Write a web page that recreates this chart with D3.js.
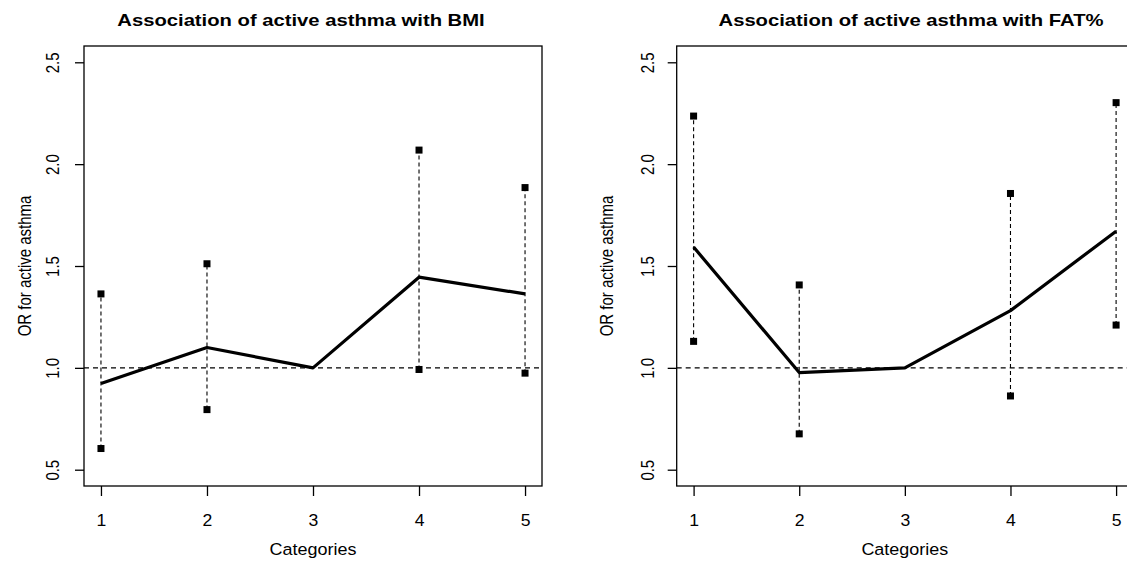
<!DOCTYPE html>
<html>
<head>
<meta charset="utf-8">
<script src="https://cdn.jsdelivr.net/npm/d3@7"></script>
<style>
  body { margin: 0; background: #fff; }
  svg { display: block; font-family: "Liberation Sans", Arial, sans-serif; }
</style>
</head>
<body>
<svg id="chart" width="1127" height="565"></svg>
<script>
"use strict";

// categories on x axis
const categories = [1, 2, 3, 4, 5];
const yTicks = [0.5, 1.0, 1.5, 2.0, 2.5];

// BMI panel (category 3 is reference, no CI)
const bmiOR = [0.923, 1.1, 1.0, 1.445, 1.363];
const bmiLower = [0.604, 0.795, null, 0.992, 0.974];
const bmiUpper = [1.363, 1.511, null, 2.069, 1.885];

// FAT% panel
const fatOR = [1.593, 0.977, 1.0, 1.281, 1.671];
const fatLower = [1.13, 0.676, null, 0.862, 1.21];
const fatUpper = [2.236, 1.407, null, 1.856, 2.302];

const panels = [
  {
    title: "Association of active asthma with BMI",
    or: bmiOR, lo: bmiLower, hi: bmiUpper,
    left: 84, right: 542, titleX: 301, ylabX: 26, tickLabOff: 31
  },
  {
    title: "Association of active asthma with FAT%",
    or: fatOR, lo: fatLower, hi: fatUpper,
    left: 676.7, right: 1133, titleX: 911, ylabX: 608, tickLabOff: 29
  }
];

const plotTop = 46, plotBottom = 486;
const stretch = 1.19; // the original picture is a bit wider than tall
const svg = d3.select("#chart");

// R style: pretty range extended by 4% on each side
const y = d3.scaleLinear().domain([0.42, 2.58]).range([plotBottom, plotTop]);

panels.forEach(function (p) {
  const x = d3.scaleLinear().domain([0.84, 5.16]).range([p.left, p.right]);
  const g = svg.append("g");

  // title
  g.append("text")
    .attr("transform", `translate(${p.titleX},26) scale(${stretch},1)`)
    .attr("text-anchor", "middle")
    .style("font-size", "17px")
    .style("font-weight", "bold")
    .text(p.title);

  // reference line at OR = 1
  g.append("line")
    .attr("x1", p.left).attr("x2", p.right)
    .attr("y1", y(1)).attr("y2", y(1))
    .attr("stroke", "#000")
    .attr("stroke-width", 1.1)
    .attr("stroke-dasharray", "5,4");

  // confidence intervals
  const ci = categories
    .map((c, i) => ({ c: c, lo: p.lo[i], hi: p.hi[i] }))
    .filter((d) => d.lo !== null);

  g.selectAll("line.ci").data(ci).enter().append("line")
    .attr("class", "ci")
    .attr("x1", (d) => x(d.c)).attr("x2", (d) => x(d.c))
    .attr("y1", (d) => y(d.lo)).attr("y2", (d) => y(d.hi))
    .attr("stroke", "#000")
    .attr("stroke-width", 1.1)
    .attr("stroke-dasharray", "4,3");

  const ends = [];
  ci.forEach((d) => { ends.push({ c: d.c, v: d.lo }); ends.push({ c: d.c, v: d.hi }); });
  const sq = 7;
  g.selectAll("rect.end").data(ends).enter().append("rect")
    .attr("class", "end")
    .attr("x", (d) => x(d.c) - sq / 2)
    .attr("y", (d) => y(d.v) - sq / 2)
    .attr("width", sq).attr("height", sq)
    .attr("fill", "#000");

  // point estimates
  const line = d3.line().x((d) => x(d.c)).y((d) => y(d.v));
  g.append("path")
    .datum(categories.map((c, i) => ({ c: c, v: p.or[i] })))
    .attr("d", line)
    .attr("fill", "none")
    .attr("stroke", "#000")
    .attr("stroke-width", 3.2)
    .attr("stroke-linejoin", "round");

  // box
  g.append("rect")
    .attr("x", p.left).attr("y", plotTop)
    .attr("width", p.right - p.left).attr("height", plotBottom - plotTop)
    .attr("fill", "none")
    .attr("stroke", "#000")
    .attr("stroke-width", 1.3);

  // x axis
  const xa = g.append("g")
    .attr("transform", `translate(0,${plotBottom})`)
    .call(d3.axisBottom(x).tickValues(categories).tickFormat(d3.format("d")).tickSize(10).tickPadding(19));
  xa.select(".domain").remove();
  xa.selectAll("line").attr("stroke-width", 1.3);
  xa.selectAll("text")
    .attr("transform", "scale(1.1,1)")
    .style("font-size", "16px")
    .attr("fill", "#000");

  // y axis
  const ya = g.append("g")
    .attr("transform", `translate(${p.left},0)`)
    .call(d3.axisLeft(y).tickValues(yTicks).tickFormat(d3.format(".1f")).tickSize(9));
  ya.select(".domain").remove();
  ya.selectAll("line").attr("stroke-width", 1.3);
  ya.selectAll("text")
    .attr("x", 0)
    .attr("dy", "0.35em")
    .attr("text-anchor", "middle")
    .attr("transform", `translate(${-p.tickLabOff},0) scale(${stretch},1) rotate(-90)`)
    .style("font-size", "15px")
    .attr("fill", "#000");

  // axis titles
  g.append("text")
    .attr("transform", `translate(${(p.left + p.right) / 2},555) scale(1.09,1)`)
    .attr("text-anchor", "middle")
    .style("font-size", "16.5px")
    .text("Categories");

  g.append("text")
    .attr("transform", `translate(${p.ylabX + 5},${(plotTop + plotBottom) / 2}) scale(${stretch},1) rotate(-90)`)
    .attr("text-anchor", "middle")
    .style("font-size", "15px")
    .text("OR for active asthma");
});
</script>
</body>
</html>
